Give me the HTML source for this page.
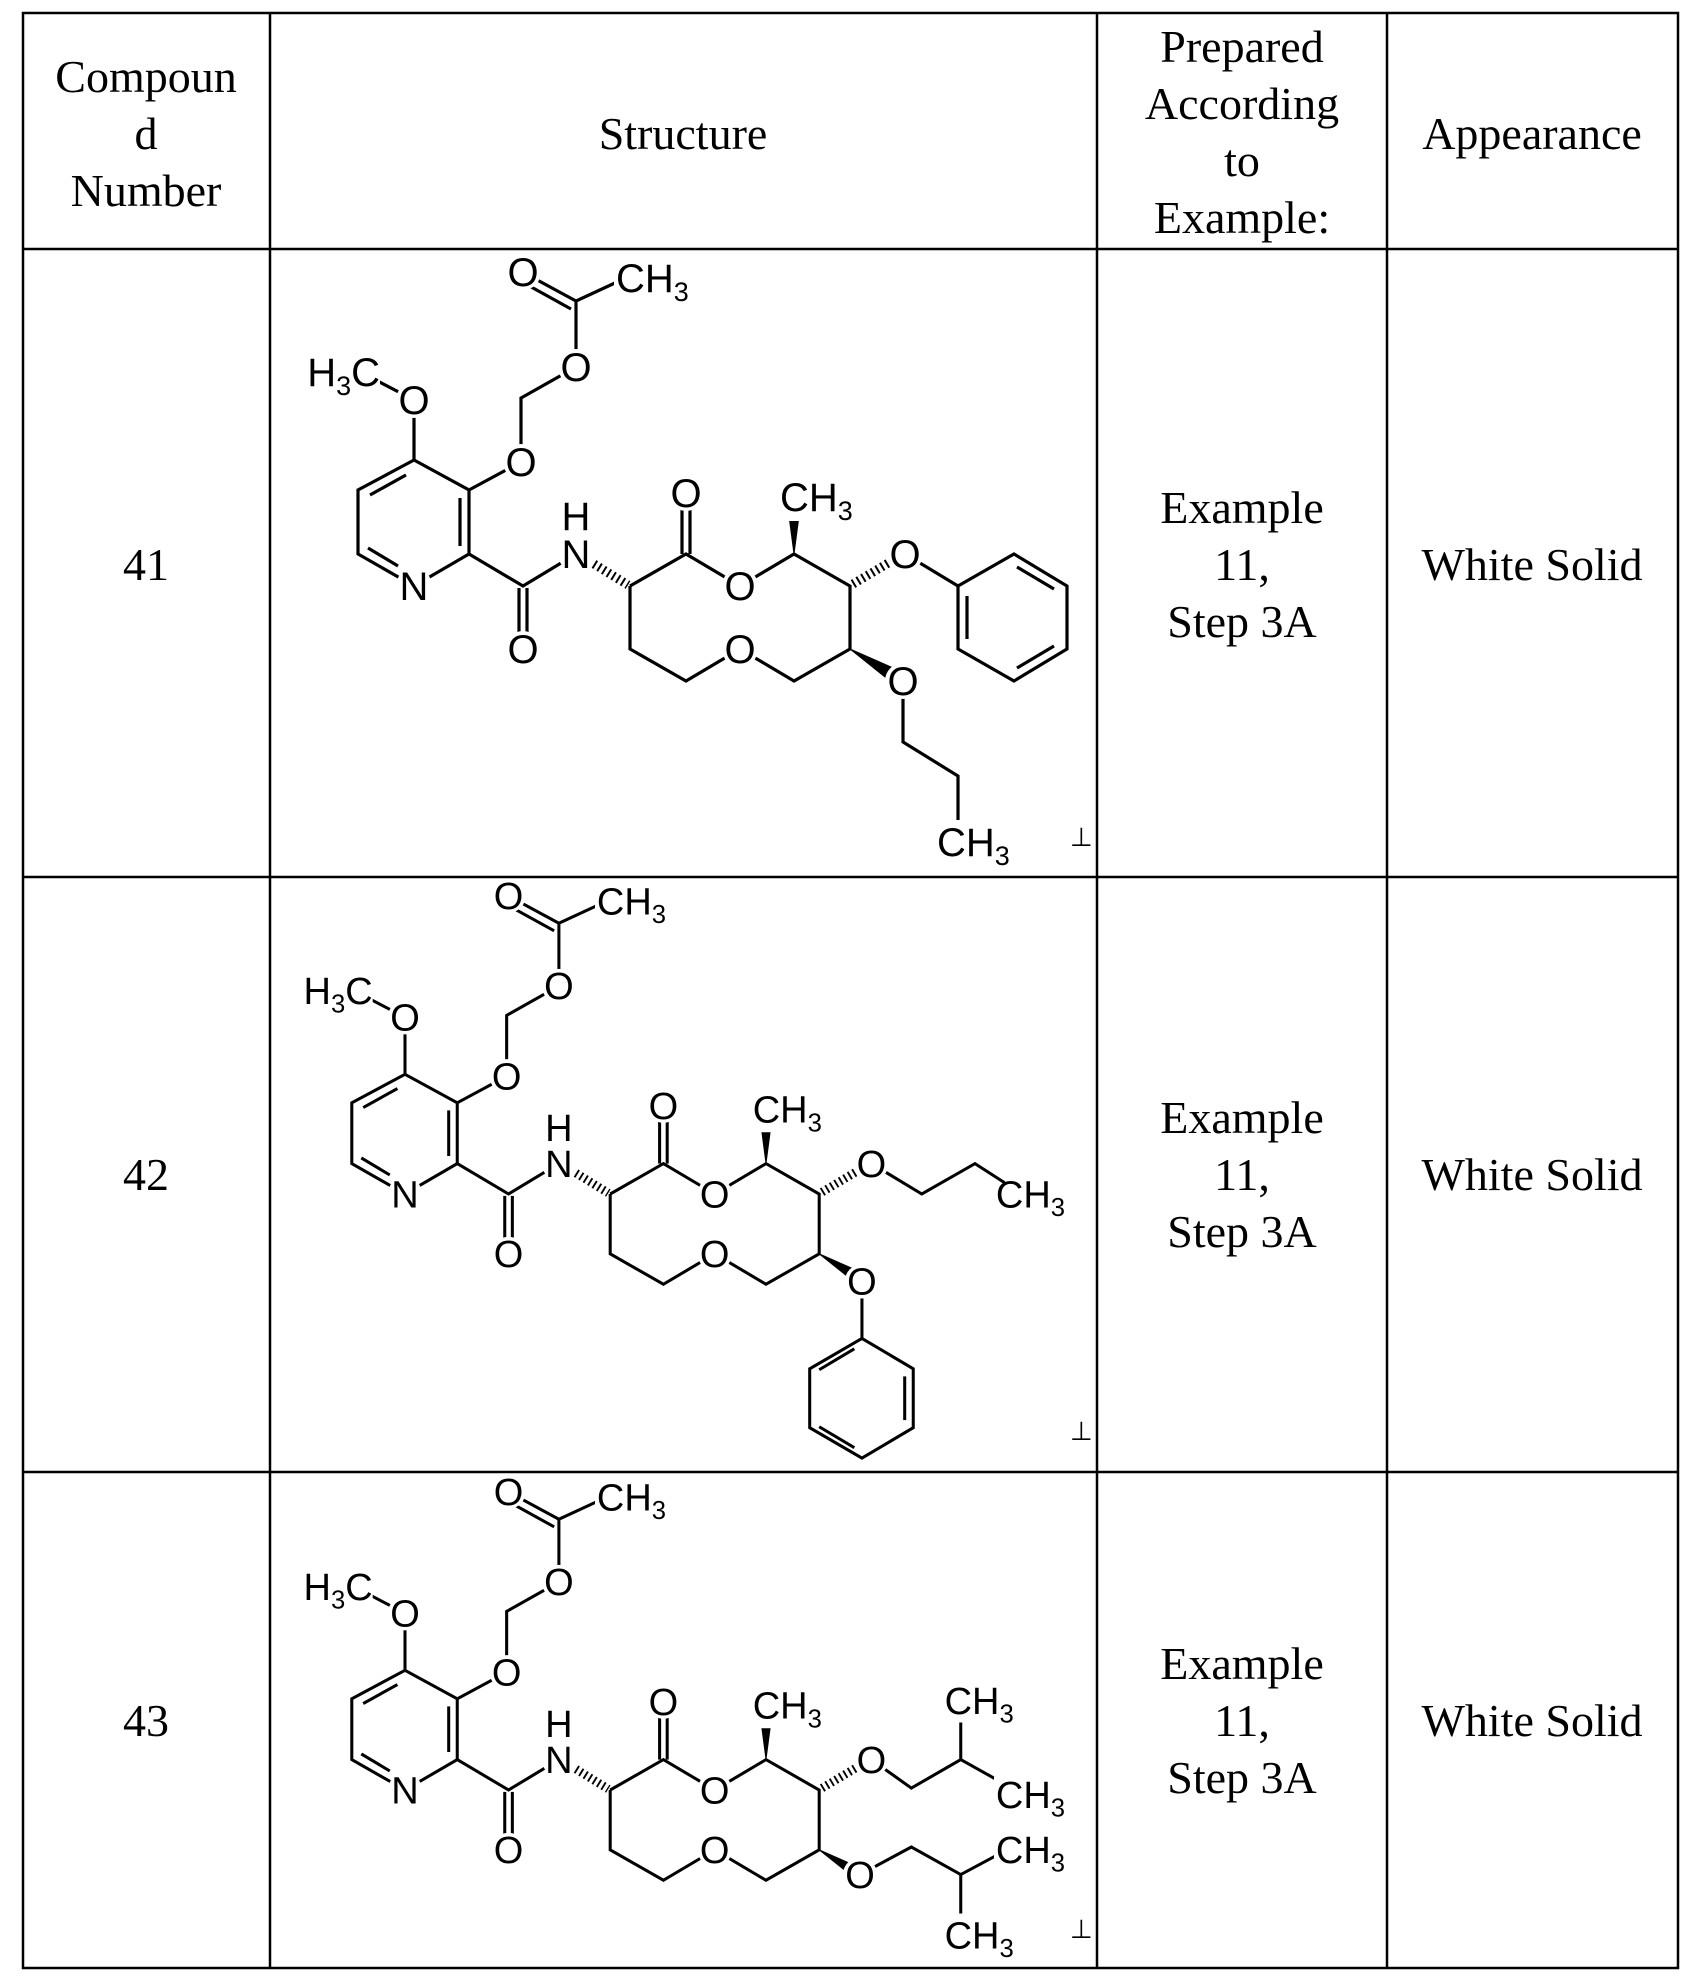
<!DOCTYPE html>
<html><head><meta charset="utf-8"><style>
html,body{margin:0;padding:0;background:#fff}
svg{display:block}
.t{font-family:"Liberation Serif",serif;font-size:46px;fill:#000}
</style></head><body>
<svg width="1693" height="1985" viewBox="0 0 1693 1985" xmlns="http://www.w3.org/2000/svg">
<defs>
<g id="core" stroke="#000" stroke-width="3.2" fill="none">
  <polyline points="414,460 469,490 469,554 414,586 358,554 358,490 414,460"/>
  <line x1="406" y1="475" x2="370" y2="495"/>
  <line x1="460" y1="498" x2="460" y2="546"/>
  <line x1="368" y1="548" x2="398" y2="566"/>
  <line x1="414" y1="460" x2="414" y2="400"/>
  <line x1="414" y1="400" x2="368" y2="376"/>
  <polyline points="469,490 521,462 521,398 576,367 576,301 630,276"/>
  <line x1="576" y1="301" x2="528" y2="275"/>
  <line x1="571" y1="309" x2="524" y2="283"/>
  <polyline points="469,554 523,586 576,554"/>
  <line x1="519" y1="588" x2="519" y2="640"/>
  <line x1="527" y1="588" x2="527" y2="640"/>
  <line x1="594" y1="564" x2="628" y2="585" stroke-width="9" stroke-dasharray="2 3.5"/>
  <polyline points="630,586 686,554 740,586 794,554 850,586 850,649 794,681 740,649 686,681 630,649 630,586"/>
  <line x1="682" y1="554" x2="682" y2="500"/>
  <line x1="690" y1="554" x2="690" y2="500"/>
  <polygon points="794,554 788.5,512 799.5,512" fill="#000" stroke-width="1"/>
  <line x1="853" y1="584" x2="890" y2="562" stroke-width="9" stroke-dasharray="2 3.5"/>
  <polygon points="850,649 891,667 885,677" fill="#000" stroke-width="1"/>
  <g fill="#fff" stroke="none">
   <circle cx="414" cy="400" r="18"/><circle cx="414" cy="586" r="18"/>
   <circle cx="521" cy="462" r="18"/><circle cx="576" cy="367" r="18"/>
   <circle cx="523" cy="272" r="18"/><circle cx="523" cy="649" r="18"/>
   <circle cx="576" cy="554" r="18"/>
   <circle cx="686" cy="493" r="18"/><circle cx="740" cy="586" r="18"/>
   <circle cx="740" cy="649" r="18"/>
   <rect x="614" y="258" width="70" height="44"/>
   <rect x="778" y="477" width="70" height="44"/>
   <rect x="300" y="352" width="80" height="44"/>
  </g>
</g>
<g id="coreL" font-family="Liberation Sans,sans-serif" font-size="40" fill="#000">
  <text x="414" y="414" text-anchor="middle">O</text>
  <text x="380" y="386" text-anchor="end">H<tspan font-size="27" dy="9">3</tspan><tspan dy="-9">C</tspan></text>
  <text x="414" y="600" text-anchor="middle">N</text>
  <text x="521" y="476" text-anchor="middle">O</text>
  <text x="576" y="381" text-anchor="middle">O</text>
  <text x="523" y="286" text-anchor="middle">O</text>
  <text x="616" y="292">CH<tspan font-size="27" dy="9">3</tspan></text>
  <text x="523" y="663" text-anchor="middle">O</text>
  <text x="576" y="568" text-anchor="middle">N</text>
  <text x="576" y="530" text-anchor="middle">H</text>
  <text x="686" y="507" text-anchor="middle">O</text>
  <text x="740" y="600" text-anchor="middle">O</text>
  <text x="740" y="663" text-anchor="middle">O</text>
  <text x="780" y="511">CH<tspan font-size="27" dy="9">3</tspan></text>
</g>
</defs>

<g stroke="#000" stroke-width="2.5" fill="none">
 <rect x="23" y="13" width="1655" height="1955"/>
 <line x1="270" y1="13" x2="270" y2="1968"/>
 <line x1="1097" y1="13" x2="1097" y2="1968"/>
 <line x1="1387" y1="13" x2="1387" y2="1968"/>
 <line x1="23" y1="249" x2="1678" y2="249"/>
 <line x1="23" y1="877" x2="1678" y2="877"/>
 <line x1="23" y1="1472" x2="1678" y2="1472"/>
</g>
<g class="t" text-anchor="middle">
 <text x="146" y="92">Compoun</text>
 <text x="146" y="149">d</text>
 <text x="146" y="206">Number</text>
 <text x="683" y="149">Structure</text>
 <text x="1242" y="62">Prepared</text>
 <text x="1242" y="119">According</text>
 <text x="1242" y="176">to</text>
 <text x="1242" y="233">Example:</text>
 <text x="1532" y="149">Appearance</text>
 <text x="146" y="580">41</text>
 <text x="1242" y="523">Example</text><text x="1242" y="580">11,</text><text x="1242" y="637">Step 3A</text>
 <text x="1532" y="580">White Solid</text>
 <text x="146" y="1190">42</text>
 <text x="1242" y="1133">Example</text><text x="1242" y="1190">11,</text><text x="1242" y="1247">Step 3A</text>
 <text x="1532" y="1190">White Solid</text>
 <text x="146" y="1736">43</text>
 <text x="1242" y="1679">Example</text><text x="1242" y="1736">11,</text><text x="1242" y="1793">Step 3A</text>
 <text x="1532" y="1736">White Solid</text>
</g>
<g font-family="Liberation Sans,sans-serif" font-size="26">
 <text x="1070" y="846">⊥</text>
 <text x="1070" y="1440">⊥</text>
 <text x="1070" y="1938">⊥</text>
</g>

<!-- molecule 41 -->
<g>
 <use href="#core"/>
 <g stroke="#000" stroke-width="3.2" fill="none">
  <polyline points="905,554 958,586"/>
  <polyline points="958,586 1014,554 1067,586 1067,649 1014,681 958,649 958,586"/>
  <line x1="1017" y1="567" x2="1054" y2="589"/>
  <line x1="1054" y1="646" x2="1017" y2="668"/>
  <line x1="967" y1="596" x2="967" y2="639"/>
  <polyline points="903,681 903,742 958,776 958,822"/>
 </g>
 <g fill="#fff"><circle cx="905" cy="554" r="18"/><circle cx="903" cy="681" r="18"/><rect x="935" y="820" width="75" height="46"/></g>
 <use href="#coreL"/>
 <g font-family="Liberation Sans,sans-serif" font-size="40" fill="#000">
  <text x="905" y="568" text-anchor="middle">O</text>
  <text x="903" y="695" text-anchor="middle">O</text>
  <text x="937" y="856">CH<tspan font-size="27" dy="9">3</tspan></text>
 </g>
</g>

<!-- molecule 42 -->
<g transform="translate(405,1194) scale(0.95) translate(-414,-586)">
 <use href="#core"/>
 <g stroke="#000" stroke-width="3.2" fill="none">
  <polyline points="905,554 958,586 1014,554 1045,574"/>
  <polyline points="895,678 895,738"/>
  <polyline points="895,738 949,770 949,832 895,864 840,832 840,770 895,738"/>
  <line x1="940" y1="778" x2="940" y2="824"/>
  <line x1="887" y1="853" x2="850" y2="831"/>
  <line x1="850" y1="771" x2="887" y2="749"/>
 </g>
 <g fill="#fff"><circle cx="905" cy="554" r="18"/><circle cx="895" cy="678" r="18"/></g>
 <use href="#coreL"/>
 <g font-family="Liberation Sans,sans-serif" font-size="40" fill="#000">
  <text x="905" y="568" text-anchor="middle">O</text>
  <text x="895" y="692" text-anchor="middle">O</text>
  <text x="1036" y="600">CH<tspan font-size="27" dy="9">3</tspan></text>
 </g>
</g>

<!-- molecule 43 -->
<g transform="translate(405,1790) scale(0.95) translate(-414,-586)">
 <use href="#core"/>
 <g stroke="#000" stroke-width="3.2" fill="none">
  <polyline points="905,554 947,584 999,554 999,515"/>
  <line x1="999" y1="554" x2="1042" y2="578"/>
  <polyline points="893,675 947,646 999,675 1042,652"/>
  <line x1="999" y1="675" x2="999" y2="718"/>
 </g>
 <g fill="#fff"><circle cx="905" cy="554" r="18"/><circle cx="893" cy="675" r="18"/>
  <rect x="1034" y="572" width="76" height="44"/><rect x="1034" y="630" width="76" height="44"/>
  <rect x="980" y="716" width="76" height="46"/></g>
 <use href="#coreL"/>
 <g font-family="Liberation Sans,sans-serif" font-size="40" fill="#000">
  <text x="905" y="568" text-anchor="middle">O</text>
  <text x="893" y="689" text-anchor="middle">O</text>
  <text x="982" y="506">CH<tspan font-size="27" dy="9">3</tspan></text>
  <text x="1036" y="605">CH<tspan font-size="27" dy="9">3</tspan></text>
  <text x="1036" y="663">CH<tspan font-size="27" dy="9">3</tspan></text>
  <text x="982" y="753">CH<tspan font-size="27" dy="9">3</tspan></text>
 </g>
</g>
</svg>
</body></html>
